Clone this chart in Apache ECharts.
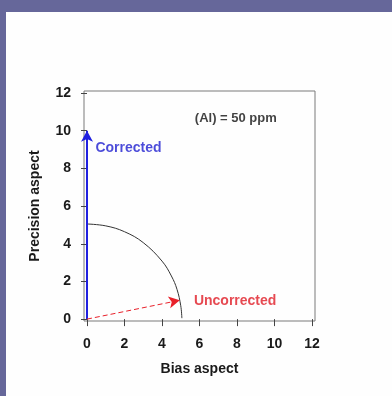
<!DOCTYPE html>
<html>
<head>
<meta charset="utf-8">
<script src="https://cdn.jsdelivr.net/npm/echarts@6/dist/echarts.min.js"></script>
<style>
  html, body { margin: 0; padding: 0; background: #66679a; }
  #frame { position: absolute; left: 6px; top: 12px; width: 386px; height: 384px; background: #fefefe; }
  #main { width: 386px; height: 384px; }
</style>
</head>
<body>
<div id="frame"><div id="main"></div></div>
<script>
// values
var xTicks = [0, 2, 4, 6, 8, 10, 12];
var yTicks = [0, 2, 4, 6, 8, 10, 12];
var arcX = [0, 1, 2, 3, 4, 4.5, 4.8, 5.0, 5.06];
var arcY = [5.05, 4.95, 4.64, 4.06, 3.08, 2.29, 1.58, 0.71, 0.05];
var correctedFrom = [0, 0];
var correctedTo = [0, 10];
var uncorrectedFrom = [0, 0];
var uncorrectedTo = [4.95, 1.0];
var notes = [
  { text: 'Corrected', pos: [0.45, 9.1], color: '#1e1ed0', size: 14, weight: 'bold' },
  { text: 'Uncorrected', pos: [5.7, 0.96], color: '#e01c26', size: 14, weight: 'bold' },
  { text: '(Al) = 50 ppm', pos: [5.75, 10.68], color: '#111', size: 13, weight: 'bold' }
];

var dom = document.getElementById('main');
var myChart = echarts.init(dom);

var arcData = arcX.map(function (x, i) { return [x, arcY[i]]; });
var font = 'Liberation Sans, Arial, sans-serif';

var option = {
  animation: false,
  grid: {
    left: 78, top: 79, width: 231, height: 230,
    show: true, borderColor: '#7a7a7a', borderWidth: 1,
    outerBoundsMode: 'none'
  },
  xAxis: {
    type: 'value', min: -0.16, max: 12.16,
    name: 'Bias aspect', nameLocation: 'middle', nameGap: 41,
    nameTextStyle: { fontFamily: font, fontSize: 14, fontWeight: 'bold', color: '#1a1a1a' },
    axisLine: { show: false },
    splitLine: { show: false },
    axisTick: { show: true, length: 7, customValues: xTicks, lineStyle: { color: '#444' } },
    axisLabel: { customValues: xTicks, fontFamily: font, fontSize: 14, fontWeight: 'bold', color: '#1a1a1a', margin: 16 }
  },
  yAxis: {
    type: 'value', min: -0.1, max: 12.11,
    name: 'Precision aspect', nameLocation: 'middle', nameGap: 42, nameRotate: 90,
    nameTextStyle: { fontFamily: font, fontSize: 14, fontWeight: 'bold', color: '#1a1a1a' },
    axisLine: { show: false },
    splitLine: { show: false },
    axisTick: { show: true, length: 6, customValues: yTicks, lineStyle: { color: '#444' } },
    axisLabel: { customValues: yTicks, fontFamily: font, fontSize: 14, fontWeight: 'bold', color: '#1a1a1a', margin: 13 }
  },
  series: [
    {
      type: 'line',
      data: arcData,
      smooth: 0.4,
      showSymbol: false,
      lineStyle: { color: '#333', width: 1 }
    },
    {
      type: 'line',
      data: [],
      markLine: {
        silent: true,
        symbol: ['none', 'arrow'],
        symbolSize: [9, 11],
        label: { show: false },
        data: [
          [
            { coord: correctedFrom, lineStyle: { color: '#2020e0', width: 2, type: 'solid' } },
            { coord: correctedTo }
          ],
          [
            { coord: uncorrectedFrom, lineStyle: { color: '#e8202a', width: 1, type: [5, 3] } },
            { coord: uncorrectedTo }
          ]
        ]
      }
    },
    {
      type: 'scatter',
      symbolSize: 0,
      data: notes.map(function (n) {
        return {
          value: n.pos,
          label: {
            show: true, position: 'right', distance: 0,
            formatter: n.text, color: n.color,
            fontFamily: font, fontSize: n.size, fontWeight: n.weight
          }
        };
      })
    }
  ]
};

myChart.setOption(option);
</script>
</body>
</html>
